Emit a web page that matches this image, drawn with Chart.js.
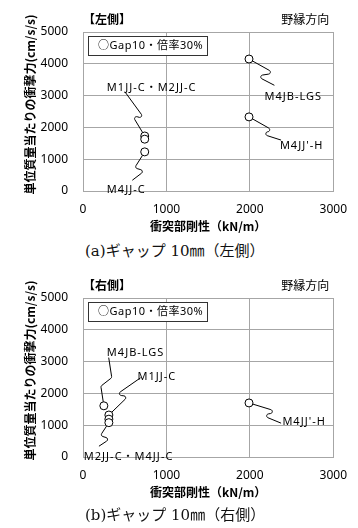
<!DOCTYPE html>
<html>
<head>
<meta charset="utf-8">
<script src="https://cdn.jsdelivr.net/npm/chart.js@4.4.1/dist/chart.umd.min.js"></script>
<style>
  html, body { margin: 0; padding: 0; background: #fff; width: 358px; height: 528px; overflow: hidden; }
  .panel { position: absolute; left: 0; width: 358px; height: 240px; }
  .caption { position: absolute; left: 85px; font: 15px "DejaVu Serif", "Liberation Serif", "Noto Sans CJK JP", serif; color: #111; white-space: nowrap; line-height: 20px; }
</style>
</head>
<body>
<div class="panel" style="top:0"><canvas id="leftSide" width="358" height="240"></canvas></div>
<div class="caption" style="top:241px">(a)ギャップ 10㎜（左側）</div>
<div class="panel" style="top:266px"><canvas id="rightSide" width="358" height="240"></canvas></div>
<div class="caption" style="top:505px">(b)ギャップ 10㎜（右側）</div>
<script>
// Axis ticks
const xTicks = [0, 1000, 2000, 3000];
const yTicks = [0, 1000, 2000, 3000, 4000, 5000];
const seriesName = '○Gap10・倍率30%';

// Left side: specimen, stiffness (kN/m), impact force per unit mass (cm/s/s)
const leftNames = ['M1JJ-C', 'M2JJ-C', 'M4JJ-C', 'M4JB-LGS', "M4JJ'-H"];
const leftX = [740, 740, 740, 1990, 1990];
const leftY = [1730, 1630, 1230, 4150, 2330];

// Right side
const rightNames = ['M4JB-LGS', 'M1JJ-C', 'M2JJ-C', 'M4JJ-C', "M4JJ'-H"];
const rightX = [250, 310, 310, 310, 1990];
const rightY = [1610, 1320, 1190, 1080, 1700];

// Callout layout: text anchor and leader end in axis units, bend = [t1, off1, t2, off2]
const leftCallouts = [
  { text: 'M1JJ-C・M2JJ-C', from: 0, at: [286, 3240], end: [504, 3113], bend: [0.5, 3, 0.32, -7] },
  { text: 'M4JJ-C', from: 2, at: [286, 30], end: [595, 346], bend: [0.61, -3, 0.57, 7.4] },
  { text: 'M4JB-LGS', from: 3, at: [2176, 2955], end: [2290, 3330], bend: [0.77, 8.5, 0.48, -6.4] },
  { text: "M4JJ'-H", from: 4, at: [2360, 1415], end: [2370, 1605], bend: [0.73, 3.3, 0.43, -7.4] }
];
const rightCallouts = [
  { text: 'M4JB-LGS', from: 0, at: [286, 3270], end: [309, 3113], bend: [0.4, 5, 0.6, -5] },
  { text: 'M1JJ-C', from: 1, at: [653, 2515], end: [687, 2485], bend: [0.55, -2.6, 0.41, 7.6] },
  { text: 'M2JJ-C・M4JJ-C', from: 3, at: [10, 0], end: [195, 346], bend: [0.61, -3, 0.57, 7.4] },
  { text: "M4JJ'-H", from: 4, at: [2390, 1100], end: [2370, 1069], bend: [0.81, 8.3, 0.45, -3.6] }
];

const LATIN = '"Noto Sans", "Noto Sans CJK JP", sans-serif';
const CJK = '"Noto Sans CJK JP", "Noto Sans", sans-serif';

// Headers, legend box, y title, leader lines and callout labels
const decor = {
  id: 'decor',
  beforeDatasetsDraw(chart, args, opts) {
    const { ctx, scales: { x, y } } = chart;
    const pts = chart.data.datasets[0].data;
    ctx.save();
    ctx.strokeStyle = '#000';
    ctx.lineWidth = 1;
    ctx.lineJoin = 'round';
    ctx.lineCap = 'round';
    opts.callouts.forEach(c => {
      const p = pts[c.from];
      const sx = x.getPixelForValue(p.x), sy = y.getPixelForValue(p.y);
      const ex = x.getPixelForValue(c.end[0]), ey = y.getPixelForValue(c.end[1]);
      const dx = ex - sx, dy = ey - sy, L = Math.hypot(dx, dy);
      const nx = dy / L, ny = -dx / L;
      const [t1, a1, t2, a2] = c.bend;
      const p1x = sx + dx * t1 + nx * a1, p1y = sy + dy * t1 + ny * a1;
      const p2x = sx + dx * t2 + nx * a2, p2y = sy + dy * t2 + ny * a2;
      // squiggle with softly rounded turns
      ctx.beginPath();
      ctx.moveTo(sx, sy);
      ctx.arcTo(p1x, p1y, p2x, p2y, 2);
      ctx.arcTo(p2x, p2y, ex, ey, 2);
      ctx.lineTo(ex, ey);
      ctx.stroke();
    });
    ctx.restore();
  },
  afterDatasetsDraw(chart, args, opts) {
    const { ctx, scales: { x, y } } = chart;
    ctx.save();
    ctx.fillStyle = '#000';
    ctx.font = '11px ' + LATIN;
    ctx.letterSpacing = '1px';
    ctx.textAlign = 'left';
    ctx.textBaseline = 'middle';
    opts.callouts.forEach(c => {
      ctx.fillText(c.text, x.getPixelForValue(c.at[0]), y.getPixelForValue(c.at[1]));
    });
    ctx.restore();
  },
  afterDraw(chart, args, opts) {
    const { ctx, chartArea: a } = chart;
    ctx.save();
    ctx.fillStyle = '#000';
    ctx.textBaseline = 'middle';
    // headers
    ctx.font = 'bold 12px ' + CJK;
    ctx.textAlign = 'left';
    ctx.fillText(opts.side, a.left, a.top - 13);
    ctx.font = '12px ' + CJK;
    ctx.textAlign = 'right';
    ctx.fillText('野縁方向', a.right - 4, a.top - 13);
    // legend box
    ctx.fillStyle = '#fff';
    ctx.fillRect(a.left + 5, a.top + 4, 119, 19);
    ctx.strokeStyle = '#333';
    ctx.lineWidth = 1;
    ctx.strokeRect(a.left + 5.5, a.top + 4.5, 119, 19);
    ctx.fillStyle = '#000';
    ctx.textAlign = 'left';
    ctx.font = '11px ' + LATIN;
    ctx.letterSpacing = '0.5px';
    ctx.fillText(chart.data.datasets[0].label, a.left + 15, a.top + 14);
    ctx.letterSpacing = '0px';
    // y axis title
    ctx.translate(30, (a.top + a.bottom) / 2 - 7);
    ctx.rotate(-Math.PI / 2);
    ctx.textAlign = 'center';
    ctx.font = 'bold 12px ' + CJK;
    ctx.fillText('単位質量当たりの衝撃力(cm/s/s)', 0, 0);
    ctx.restore();
  }
};

function buildChart(id, names, xs, ys, callouts, side) {
  const pts = xs.map((v, i) => ({ x: v, y: ys[i], name: names[i] }));
  return new Chart(document.getElementById(id), {
    type: 'scatter',
    data: {
      datasets: [{
        label: seriesName,
        data: pts,
        pointStyle: 'circle',
        pointRadius: 4,
        pointHoverRadius: 4,
        backgroundColor: '#fff',
        borderColor: '#000',
        borderWidth: 1
      }]
    },
    options: {
      responsive: false,
      animation: false,
      devicePixelRatio: 1,
      layout: { padding: { top: 32, right: 13, left: 0, bottom: 0 } },
      plugins: {
        legend: { display: false },
        tooltip: { enabled: false },
        decor: { callouts, side }
      },
      scales: {
        x: {
          type: 'linear', min: 0, max: 3000,
          afterBuildTicks: s => { s.ticks = xTicks.map(v => ({ value: v })); },
          afterFit: s => { s.height = 49; },
          ticks: { font: { family: LATIN, size: 12 }, color: '#000', padding: 11, maxRotation: 0,
                   callback: v => String(v) },
          grid: { color: '#a6a6a6', drawTicks: false },
          border: { color: '#a6a6a6' },
          title: { display: true, text: '衝突部剛性（kN/m）', color: '#000',
                   font: { family: CJK, size: 12, weight: 'bold' }, padding: { top: 0, bottom: 6 } }
        },
        y: {
          type: 'linear', min: 0, max: 5000,
          afterBuildTicks: s => { s.ticks = yTicks.map(v => ({ value: v })); },
          afterFit: s => { s.width = 83; },
          ticks: { font: { family: LATIN, size: 12 }, color: '#000', padding: 15,
                   callback: v => String(v) },
          grid: { color: '#a6a6a6', drawTicks: false },
          border: { color: '#a6a6a6' }
        }
      }
    },
    plugins: [decor]
  });
}

buildChart('leftSide', leftNames, leftX, leftY, leftCallouts, '【左側】');
buildChart('rightSide', rightNames, rightX, rightY, rightCallouts, '【右側】');
</script>
</body>
</html>
